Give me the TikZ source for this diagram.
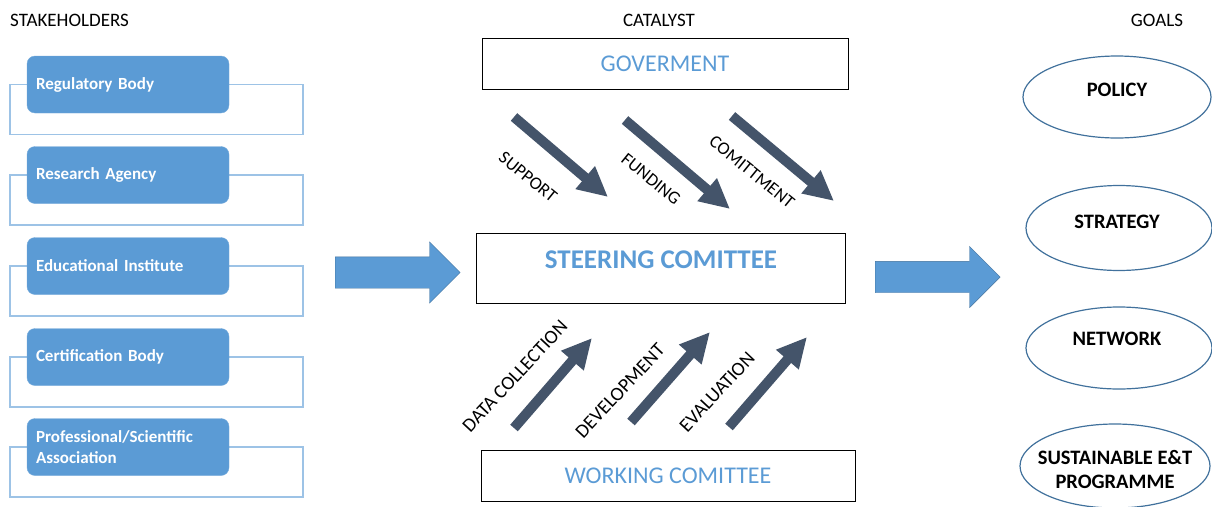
\documentclass[tikz,border=0pt]{standalone}
\usepackage{fontspec}
\setmainfont{Carlito}
\usetikzlibrary{shapes.geometric, shapes.arrows, positioning, arrows.meta}

\definecolor{boxblue}{HTML}{5B9BD5}
\definecolor{edgeblue}{HTML}{41719C}
\definecolor{lineblue}{HTML}{9DC3E6}
\definecolor{slate}{HTML}{44546A}

\begin{document}
\begin{tikzpicture}[
        x=1pt, y=-1pt,
        % Define styles
        header/.style={inner sep=0pt, font=\fontsize{19}{22}\selectfont},
        member/.style={draw=boxblue!85!white, fill=boxblue, rounded corners=8pt, minimum width=202pt, minimum height=57pt, text width=184pt, inner sep=9pt, align=left, text=white, font=\bfseries\fontsize{17}{21}\selectfont},
        frame/.style={draw=lineblue, line width=1.5pt},
        panel/.style={draw, semithick, minimum height=51pt},
        paneltext/.style={text=boxblue, inner sep=0pt, font=\fontsize{24}{28}\selectfont},
        goal/.style={draw=edgeblue, ellipse, line width=1.2pt, minimum width=188pt, minimum height=82pt, inner sep=0pt},
        goaltext/.style={inner sep=0pt, align=center, font=\bfseries\fontsize{20.5}{24}\selectfont},
        bigarrow/.style={single arrow, draw=edgeblue, fill=boxblue, minimum height=125pt, inner sep=0pt, inner ysep=15.5pt, single arrow head extend=15pt, anchor=tail},
        flow/.style={draw=slate, line width=10pt, -{Triangle[length=30pt, width=28pt]}},
        flowlabel/.style={inner sep=0pt, font=\fontsize{18}{20}\selectfont},
        uplabel/.style={flowlabel, font=\fontsize{19.5}{22}\selectfont}
    ]
    \useasboundingbox (0,0) rectangle (1212,506);

    % 1. Column headers
    \node[header, anchor=west] (hstake) at (10, 20) {STAKEHOLDERS};
    \node[header] (hcat) at (659, 20) {CATALYST};
    \node[header] (hgoal) at (1157, 20) {GOALS};

    % 2. Stakeholders: frame behind each rounded box
    \foreach \name/\y/\txt in {reg/84.5/Regulatory Body, res/175/Research Agency, edu/266/Educational Institute, cert/357/Certification Body, prof/447/{Professional/Scientific\\Association}} {
        \draw[frame] (10, \y) rectangle (303, \y+50);
        \node[member] (\name) at (128, \y) {\txt};
    }

    % 3. Catalyst column
    \node[panel, minimum width=366pt] (gov) at (665, 63.5) {};
    \node[paneltext] (govtext) at (gov) {GOVERMENT};

    \node[panel, minimum width=369pt, minimum height=70pt] (steer) at (661, 268.5) {};
    \node[paneltext, font=\bfseries\fontsize{27}{32}\selectfont] (steertext) at (661, 260) {STEERING COMITTEE};

    \node[panel, minimum width=374pt] (work) at (668, 475.5) {};
    \node[paneltext] (worktext) at (work) {WORKING COMITTEE};

    % Arrows from government down to the steering committee
    \coordinate (s1) at (514, 117);  \coordinate (e1) at (608, 197);
    \coordinate (s2) at (625, 120);  \coordinate (e2) at (730, 209);
    \coordinate (s3) at (732, 116);  \coordinate (e3) at (834, 201);
    \draw[flow] (s1) -- (e1);
    \draw[flow] (s2) -- (e2);
    \draw[flow] (s3) -- (e3);
    \node[flowlabel, rotate=-39] (lsup) at (528, 177) {SUPPORT};
    \node[flowlabel, rotate=-39] (lfund) at (651, 179) {FUNDING};
    \node[flowlabel, rotate=-39] (lcom) at (752, 172) {COMITTMENT};

    % Arrows from the working committee up to the steering committee
    \coordinate (u1) at (514, 428);  \coordinate (v1) at (592, 338);
    \coordinate (u2) at (631, 422);  \coordinate (v2) at (710, 332);
    \coordinate (u3) at (729, 427);  \coordinate (v3) at (807, 337);
    \draw[flow] (u1) -- (v1);
    \draw[flow] (u2) -- (v2);
    \draw[flow] (u3) -- (v3);
    \node[uplabel, rotate=47] (ldata) at (515, 376) {DATA COLLECTION};
    \node[uplabel, rotate=47] (ldev) at (620, 391) {DEVELOPMENT};
    \node[uplabel, rotate=47] (leval) at (717, 392) {EVALUATION};

    % 4. Block arrows between the columns
    \node[bigarrow] (into) at (335, 272.5) {};
    \node[bigarrow] (outof) at (875, 277) {};

    % 5. Goals
    \node[goal] (policy) at (1117, 97) {};
    \node[goaltext] at (1117, 90) {POLICY};
    \node[goal, minimum width=186pt, minimum height=85pt] (strategy) at (1119, 228) {};
    \node[goaltext] at (1117, 222) {STRATEGY};
    \node[goal, minimum width=186pt] (network) at (1119, 348) {};
    \node[goaltext] at (1117, 339) {NETWORK};
    \node[goal, minimum width=190pt, minimum height=84pt] (sustain) at (1115, 466) {};
    \node[goaltext] at (1115, 469) {SUSTAINABLE E\&T\\PROGRAMME};

\end{tikzpicture}
\end{document}
